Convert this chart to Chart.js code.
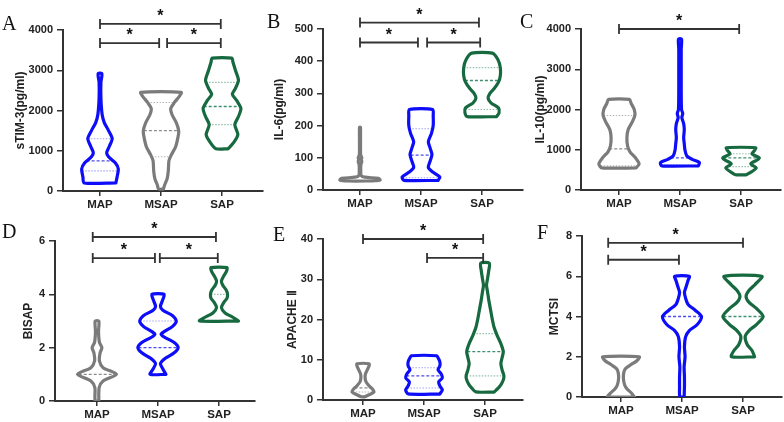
<!DOCTYPE html>
<html>
<head>
<meta charset="utf-8">
<script src="https://cdn.jsdelivr.net/npm/chart.js@4.4.1/dist/chart.umd.min.js"></script>
<style>
body{margin:0;background:#fff;}
#wrap{position:relative;width:784px;height:422px;overflow:hidden;background:#fff;}
.panel{position:absolute;height:211px;}
.tag{position:absolute;font-family:"Liberation Serif","Times New Roman",serif;font-size:20px;line-height:20px;color:#111;}
</style>
</head>
<body>
<div id="wrap"></div>
<script>
const categories = ['MAP', 'MSAP', 'SAP'];

// Perfiles de cada violín: [valor, media anchura en unidades de categoría]
// A - sTIM-3
const aMAP = [[200,0.26],[350,0.28],[550,0.3],[700,0.25],[850,0.14],[950,0.11],[1100,0.15],[1300,0.2],[1500,0.14],[1700,0.07],[1900,0.035],[2300,0.015],[2700,0.015],[2850,0.03],[2920,0.03]];
const aMSAP = [[50,0.04],[150,0.06],[300,0.1],[500,0.12],[750,0.13],[900,0.17],[1100,0.24],[1350,0.28],[1500,0.29],[1700,0.25],[1900,0.18],[2050,0.16],[2200,0.22],[2350,0.3],[2450,0.33]];
const aSAP = [[1050,0.1],[1200,0.19],[1400,0.26],[1650,0.21],[1850,0.27],[2050,0.31],[2250,0.24],[2400,0.17],[2550,0.22],[2750,0.27],[3000,0.22],[3200,0.18],[3300,0.16]];
// B - IL-6
const bMAP = [[28,0.2],[31,0.33],[36,0.3],[40,0.08],[45,0.02],[60,0.012],[80,0.015],[88,0.03],[95,0.02],[100,0.03],[110,0.01],[195,0.008]];
const bMSAP = [[30,0.28],[40,0.31],[55,0.2],[70,0.12],[90,0.15],[110,0.18],[130,0.15],[150,0.12],[175,0.17],[200,0.2],[230,0.2],[250,0.19]];
const bSAP = [[228,0.24],[240,0.28],[255,0.27],[270,0.15],[285,0.1],[300,0.13],[315,0.2],[335,0.27],[355,0.3],[380,0.3],[405,0.26],[425,0.17]];
// C - IL-10
const cMAP = [[550,0.28],[650,0.33],[800,0.27],[950,0.18],[1100,0.14],[1300,0.13],[1500,0.15],[1700,0.22],[1850,0.26],[2000,0.25],[2150,0.2],[2250,0.17]];
const cMSAP = [[600,0.3],[680,0.32],[760,0.2],[850,0.11],[1000,0.08],[1150,0.07],[1300,0.06],[1500,0.07],[1650,0.06],[1800,0.03],[1900,0.045],[2000,0.025],[2500,0.02],[3000,0.02],[3500,0.02],[3750,0.025]];
const cSAP = [[380,0.09],[450,0.17],[550,0.25],[650,0.16],[750,0.27],[800,0.3],[900,0.18],[980,0.22],[1050,0.24]];
// D - BISAP
const dMAP = [[0,0.03],[0.5,0.035],[0.75,0.1],[1,0.32],[1.25,0.1],[1.5,0.04],[1.8,0.05],[2,0.08],[2.2,0.04],[2.6,0.025],[3,0.03]];
const dMSAP = [[1,0.13],[1.2,0.08],[1.4,0.04],[1.6,0.12],[1.8,0.26],[2,0.33],[2.2,0.26],[2.4,0.1],[2.5,0.05],[2.6,0.1],[2.8,0.24],[3,0.3],[3.2,0.24],[3.4,0.08],[3.55,0.04],[3.75,0.07],[4,0.1]];
const dSAP = [[3,0.32],[3.15,0.22],[3.3,0.1],[3.5,0.04],[3.7,0.08],[3.85,0.13],[4,0.14],[4.15,0.12],[4.35,0.06],[4.5,0.04],[4.7,0.08],[4.85,0.12],[5,0.13]];
// E - APACHE II
const eMAP = [[0.8,0.03],[1.3,0.1],[2,0.18],[2.8,0.15],[3.5,0.1],[4.5,0.05],[5.5,0.035],[6.5,0.04],[7.5,0.07],[8.5,0.1],[9,0.1]];
const eMSAP = [[1.5,0.26],[2.5,0.3],[3.5,0.26],[4.5,0.24],[5.5,0.3],[6.5,0.28],[7.5,0.23],[8.5,0.26],[9.5,0.26],[10.5,0.23],[11,0.21]];
const eSAP = [[2,0.15],[3,0.22],[4,0.27],[5,0.3],[6,0.31],[7.5,0.28],[9,0.26],[10.5,0.28],[12,0.3],[14,0.26],[16,0.2],[18,0.15],[20,0.12],[22.5,0.09],[25,0.06],[27,0.04],[28.5,0.025],[30,0.04],[32,0.06],[34,0.07]];
// F - MCTSI
const fMAP = [[0,0.22],[0.2,0.17],[0.4,0.1],[0.6,0.06],[0.9,0.04],[1.2,0.045],[1.4,0.07],[1.6,0.16],[1.8,0.26],[2,0.3]];
const fMSAP = [[0,0.035],[0.5,0.04],[1,0.04],[1.5,0.035],[2,0.05],[2.5,0.04],[3,0.06],[3.3,0.12],[3.6,0.25],[4,0.32],[4.3,0.22],[4.6,0.1],[4.9,0.06],[5.2,0.04],[5.5,0.07],[5.8,0.1],[6,0.12]];
const fSAP = [[2,0.19],[2.3,0.15],[2.6,0.07],[3,0.035],[3.3,0.1],[3.6,0.22],[4,0.33],[4.4,0.22],[4.7,0.1],[5,0.05],[5.3,0.1],[5.6,0.2],[6,0.31]];

// Líneas internas: [valor, media anchura, tipo]  m = mediana, q = cuartil
const aMAPq = [[500,0.29,'q'],[750,0.22,'m'],[1300,0.2,'q']];
const aMSAPq = [[850,0.15,'q'],[1500,0.28,'m'],[2200,0.22,'q']];
const aSAPq = [[1650,0.21,'q'],[2100,0.3,'m'],[2700,0.26,'q']];
const bMAPq = [];
const bMSAPq = [[38,0.3,'q'],[108,0.17,'m'],[190,0.19,'q']];
const bSAPq = [[250,0.27,'q'],[340,0.28,'m'],[380,0.3,'q']];
const cMAPq = [[600,0.3,'q'],[1020,0.16,'m'],[1850,0.25,'q']];
const cMSAPq = [[620,0.31,'q'],[800,0.15,'m']];
const cSAPq = [[580,0.24,'q'],[800,0.29,'m'],[900,0.18,'q']];
const dMAPq = [[1,0.3,'m']];
const dMSAPq = [[2,0.32,'m'],[3,0.29,'q']];
const dSAPq = [[4,0.13,'q']];
const eMAPq = [[2,0.17,'q'],[3,0.14,'m'],[5,0.04,'q']];
const eMSAPq = [[3,0.27,'q'],[6,0.29,'m'],[8,0.24,'q']];
const eSAPq = [[6,0.3,'q'],[12,0.29,'m'],[16.5,0.19,'q']];
const fMAPq = [];
const fMSAPq = [[4,0.31,'m']];
const fSAPq = [[4,0.32,'m']];

// Comparaciones significativas: [desde, hasta, nivel]
const aSig = [[1,2.98,4150],[1,1.97,3675],[2.1,2.98,3675]];
const bSig = [[1,2.95,520],[1,1.95,458],[2.1,2.97,458]];
const cSig = [[1,2.97,4000]];
const dSig = [[0.93,2.95,6.15],[0.93,1.95,5.36],[2.03,2.98,5.36]];
const eSig = [[1,2.97,40],[2.05,2.97,35.3]];
const fSig = [[0.79,3,7.66],[0.79,1.95,6.82]];

// Marcas del eje Y
const aTicks = [0,1000,2000,3000,4000];
const bTicks = [0,100,200,300,400,500];
const cTicks = [0,1000,2000,3000,4000];
const dTicks = [0,2,4,6];
const eTicks = [0,10,20,30,40];
const fTicks = [0,2,4,6,8];

// Colores
const BLUE = '#0d0dfa', GRAY = '#7b7b7b', GREEN = '#17693f';
const internas = {};
internas[BLUE] = {m: '#4b4bf2', q: '#a3a3f7'};
internas[GRAY] = {m: '#8c8c8c', q: '#b5b5b5'};
internas[GREEN] = {m: '#3c9070', q: '#8fc2aa'};

const FONT = '"Liberation Sans", Arial, sans-serif';
const CAT_PX = 61;   // separación entre categorías
const AREA_W = 200;  // ancho del área de gráfico

const panels = [
  {tag:'A', col:0, row:0, title:'sTIM-3(pg/ml)', ticks:aTicks, violins:[aMAP,aMSAP,aSAP], quarts:[aMAPq,aMSAPq,aSAPq], colors:[BLUE,GRAY,GREEN], sig:aSig,
   axisW:63, cat1:100, top:30, bottom:191, titleX:21, tagX:2, tagY:30},
  {tag:'B', col:1, row:0, title:'IL-6(pg/ml)', ticks:bTicks, violins:[bMAP,bMSAP,bSAP], quarts:[bMAPq,bMSAPq,bSAPq], colors:[GRAY,BLUE,GREEN], sig:bSig,
   axisW:63, cat1:100, top:29, bottom:190, titleX:20, tagX:7, tagY:28},
  {tag:'C', col:2, row:0, title:'IL-10(pg/ml)', ticks:cTicks, violins:[cMAP,cMSAP,cSAP], quarts:[cMAPq,cMSAPq,cSAPq], colors:[GRAY,BLUE,GREEN], sig:cSig,
   axisW:61, cat1:99, top:29, bottom:190, titleX:21, tagX:0, tagY:28},
  {tag:'D', col:0, row:1, title:'BISAP', ticks:dTicks, violins:[dMAP,dMSAP,dSAP], quarts:[dMAPq,dMSAPq,dSAPq], colors:[GRAY,BLUE,GREEN], sig:dSig,
   axisW:55, cat1:97, top:30, bottom:190, titleX:29, tagX:2, tagY:27},
  {tag:'E', col:1, row:1, title:'APACHE Ⅱ', ticks:eTicks, violins:[eMAP,eMSAP,eSAP], quarts:[eMAPq,eMSAPq,eSAPq], colors:[GRAY,BLUE,GREEN], sig:eSig,
   axisW:63, cat1:103, top:28, bottom:189, titleX:33, tagX:13, tagY:30},
  {tag:'F', col:2, row:1, title:'MCTSI', ticks:fTicks, violins:[fMAP,fMSAP,fSAP], quarts:[fMAPq,fMSAPq,fSAPq], colors:[GRAY,BLUE,GREEN], sig:fSig,
   axisW:62, cat1:101, top:25, bottom:186, titleX:35, tagX:17, tagY:28}
];

const wrap = document.getElementById('wrap');

panels.forEach(p => {
  const W = p.axisW + AREA_W + 2;
  const box = document.createElement('div');
  box.className = 'panel';
  box.style.left = (p.col * 260) + 'px';
  box.style.top = (p.row * 211) + 'px';
  box.style.width = W + 'px';
  const canvas = document.createElement('canvas');
  box.appendChild(canvas);
  wrap.appendChild(box);

  // letra del panel
  const tag = document.createElement('div');
  tag.className = 'tag';
  tag.textContent = p.tag;
  tag.style.left = (p.col * 260 + p.tagX) + 'px';
  tag.style.top = (p.row * 211 + p.tagY - 16.8) + 'px';
  wrap.appendChild(tag);

  const xMin = 1 - (p.cat1 - p.axisW) / CAT_PX;
  const datasets = [];

  p.violins.forEach((perfil, i) => {
    const k = i + 1;
    const color = p.colors[i];
    // lineas de mediana y cuartiles
    p.quarts[i].forEach(([v, hw, t]) => {
      datasets.push({
        data: [{x: k - hw, y: v}, {x: k + hw, y: v}],
        borderColor: internas[color][t],
        borderWidth: t === 'm' ? 1.3 : 1.1,
        borderDash: t === 'm' ? [3, 2] : [1.5, 1.5],
        pointRadius: 0, showLine: true, tension: 0, order: 2
      });
    });
    // contorno del violín
    const der = perfil.map(([v, hw]) => ({x: k + hw, y: v}));
    const izq = perfil.slice().reverse().map(([v, hw]) => ({x: k - hw, y: v}));
    datasets.push({
      data: der.concat(izq, [der[0]]),
      borderColor: color,
      borderWidth: 3.2,
      borderJoinStyle: 'round',
      borderCapStyle: 'round',
      pointRadius: 0, showLine: true, tension: 0.25, fill: false, order: 1
    });
  });

  // corchetes de significancia con asterisco
  const corchetes = {
    id: 'corchetes',
    afterDraw(chart) {
      const {ctx, scales: {x, y}} = chart;
      ctx.save();
      ctx.strokeStyle = '#333';
      ctx.lineWidth = 1.8;
      ctx.fillStyle = '#111';
      ctx.font = 'bold 16px ' + FONT;
      ctx.textAlign = 'center';
      ctx.textBaseline = 'alphabetic';
      p.sig.forEach(([a, b, nivel]) => {
        const x1 = x.getPixelForValue(a);
        const x2 = x.getPixelForValue(b);
        const yy = y.getPixelForValue(nivel);
        ctx.beginPath();
        ctx.moveTo(x1, yy); ctx.lineTo(x2, yy);
        ctx.moveTo(x1, yy - 5); ctx.lineTo(x1, yy + 5);
        ctx.moveTo(x2, yy - 5); ctx.lineTo(x2, yy + 5);
        ctx.stroke();
        ctx.fillText('*', (x1 + x2) / 2, yy - 3);
      });
      ctx.restore();
    }
  };

  const tickFont = {family: FONT, weight: 'bold', size: 11};

  new Chart(canvas, {
    type: 'scatter',
    data: {datasets},
    options: {
      responsive: true,
      maintainAspectRatio: false,
      animation: false,
      events: [],
      layout: {padding: {top: p.top, left: 0, right: 2, bottom: 0}},
      plugins: {legend: {display: false}, tooltip: {enabled: false}},
      scales: {
        x: {
          type: 'linear',
          min: xMin,
          max: xMin + AREA_W / CAT_PX,
          afterBuildTicks: s => { s.ticks = [1, 2, 3].map(v => ({value: v})); },
          afterFit: s => { s.height = 211 - p.bottom; },
          ticks: {callback: v => categories[v - 1], font: {family: FONT, weight: 'bold', size: 11.5}, color: '#222', padding: 2, autoSkip: false, maxRotation: 0},
          grid: {drawOnChartArea: false, drawTicks: true, tickLength: 5, color: '#333', lineWidth: 1.5},
          border: {color: '#333', width: 2}
        },
        y: {
          min: 0,
          max: p.ticks[p.ticks.length - 1],
          afterBuildTicks: s => { s.ticks = p.ticks.map(v => ({value: v})); },
          afterFit: s => { s.width = p.axisW; },
          ticks: {callback: v => String(v), font: tickFont, color: '#222', padding: 4},
          grid: {drawOnChartArea: false, drawTicks: true, tickLength: 6, color: '#333', lineWidth: 1.5},
          border: {color: '#333', width: 2},
          title: {display: true, text: p.title, color: '#222', font: {family: FONT, weight: 'bold', size: 12}, padding: {top: p.titleX - 7.2, bottom: 0}}
        }
      }
    },
    plugins: [corchetes]
  });
});
</script>
</body>
</html>
